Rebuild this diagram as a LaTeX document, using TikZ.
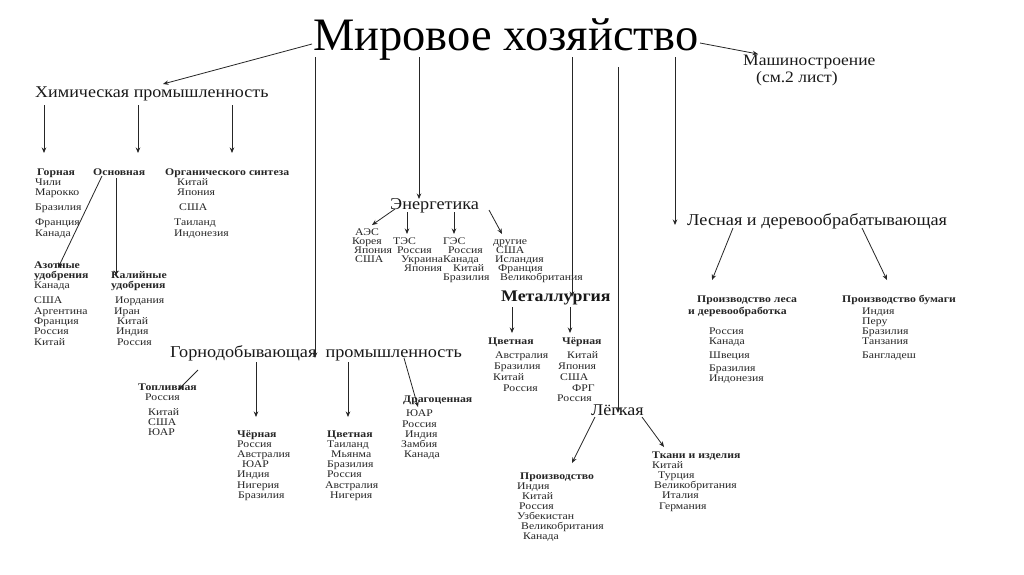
\documentclass[tikz,border=0pt]{standalone}
\usepackage{fontspec}
\setmainfont{Liberation Serif}
\newfontfamily\wid[FakeStretch=1.15]{Liberation Serif}
\newfontfamily\widm[FakeStretch=1.1]{Liberation Serif}
\usetikzlibrary{arrows.meta}
\newcommand\Lt[4]{\node[lst] (#1) at (#2,#3) {#4};}
\newcommand\Bt[4]{\node[lst,font=\wid\fontsize{10.2}{11}\selectfont\bfseries] (#1) at (#2,#3) {#4};}
\begin{document}
\begin{tikzpicture}[x=1pt,y=-1pt,
  lst/.style={anchor=west,inner sep=0pt,text height=0.7em,text depth=0.2em,font=\wid\fontsize{10.2}{11}\selectfont,text=black!85},
  mid/.style={anchor=west,inner sep=0pt,text height=0.7em,text depth=0.2em,font=\widm\fontsize{16.4}{18}\selectfont,text=black!90},
  arr/.style={draw=black!85,line width=0.8pt,-{Stealth[length=5.5pt,width=4.5pt]}},
  ln/.style={draw=black!85,line width=0.8pt}]
\useasboundingbox[fill=white] (0,0) rectangle (1024,574);
% title and main branches
\node[anchor=base,inner sep=0pt,font=\fontsize{46.5}{48}\selectfont] (mir) at (506,50) {Мировое хозяйство};
\node[mid,font=\widm\fontsize{15.9}{17}\selectfont] (mash) at (743,63) {Машиностроение};
\node[mid,font=\widm\fontsize{15.9}{17}\selectfont] (sm) at (756,80) {(см.2 лист)};
\node[mid] (chem) at (35,95) {Химическая промышленность};
\node[mid,font=\widm\fontsize{16.6}{18}\selectfont] (energ) at (390,207) {Энергетика};
\node[mid,font=\widm\fontsize{16.2}{18}\selectfont\bfseries] (metal) at (501,299) {Металлургия};
\node[mid,font=\widm\fontsize{16.4}{18}\selectfont] (light) at (591,413) {Лёгкая};
\node[mid,font=\widm\fontsize{16.6}{18}\selectfont] (forest) at (687,223) {Лесная и деревообрабатывающая};
\node[mid,font=\widm\fontsize{16.6}{18}\selectfont] (mining) at (170,355) {Горнодобывающая~ промышленность};
% chemistry
\Bt{gor}{37}{173}{Горная}
\Bt{osn}{93}{173}{Основная}
\Bt{org}{165}{173}{Органического синтеза}
\Lt{g1}{35}{183}{Чили}
\Lt{g2}{35}{193}{Марокко}
\Lt{g3}{35}{208}{Бразилия}
\Lt{g4}{35}{223}{Франция}
\Lt{g5}{35}{234}{Канада}
\Lt{o1}{177}{183}{Китай}
\Lt{o2}{177}{193}{Япония}
\Lt{o3}{179}{208}{США}
\Lt{o4}{174}{223}{Таиланд}
\Lt{o5}{174}{234}{Индонезия}
\Bt{azot}{34}{266}{Азотные}
\Bt{azot2}{34}{276}{удобрения}
\Lt{a1}{34}{286}{Канада}
\Lt{a2}{34}{301}{США}
\Lt{a3}{34}{312}{Аргентина}
\Lt{a4}{34}{322}{Франция}
\Lt{a5}{34}{332}{Россия}
\Lt{a6}{34}{343}{Китай}
\Bt{kal}{111}{276}{Калийные}
\Bt{kal2}{111}{286}{удобрения}
\Lt{k1}{115}{301}{Иордания}
\Lt{k2}{114}{312}{Иран}
\Lt{k3}{117}{322}{Китай}
\Lt{k4}{116}{332}{Индия}
\Lt{k5}{117}{343}{Россия}
% energy
\Lt{aes}{355}{233}{АЭС}
\Lt{ae1}{352}{242}{Корея}
\Lt{ae2}{354}{251}{Япония}
\Lt{ae3}{355}{260}{США}
\Lt{tes}{393}{242}{ТЭС}
\Lt{te1}{397}{251}{Россия}
\Lt{te2}{401}{260}{Украина}
\Lt{te3}{404}{269}{Япония}
\Lt{ges}{443}{242}{ГЭС}
\Lt{ge1}{448}{251}{Россия}
\Lt{ge2}{443}{260}{Канада}
\Lt{ge3}{453}{269}{Китай}
\Lt{ge4}{443}{278}{Бразилия}
\Lt{dr}{493}{242}{другие}
\Lt{dr1}{496}{251}{США}
\Lt{dr2}{495}{260}{Исландия}
\Lt{dr3}{498}{269}{Франция}
\Lt{dr4}{500}{278}{Великобритания}
% metallurgy
\Bt{mcv}{488}{342}{Цветная}
\Lt{mc1}{495}{356}{Австралия}
\Lt{mc2}{494}{367}{Бразилия}
\Lt{mc3}{493}{378}{Китай}
\Lt{mc4}{503}{389}{Россия}
\Bt{mch}{562}{342}{Чёрная}
\Lt{mh1}{567}{356}{Китай}
\Lt{mh2}{558}{367}{Япония}
\Lt{mh3}{560}{378}{США}
\Lt{mh4}{572}{389}{ФРГ}
\Lt{mh5}{557}{399}{Россия}
% light
\Bt{prz}{520}{477}{Производство}
\Lt{p1}{517}{487}{Индия}
\Lt{p2}{522}{497}{Китай}
\Lt{p3}{519}{507}{Россия}
\Lt{p4}{517}{517}{Узбекистан}
\Lt{p5}{521}{527}{Великобритания}
\Lt{p6}{523}{537}{Канада}
\Bt{tk}{652}{456}{Ткани и изделия}
\Lt{t1}{652}{466}{Китай}
\Lt{t2}{658}{476}{Турция}
\Lt{t3}{654}{486}{Великобритания}
\Lt{t4}{662}{496}{Италия}
\Lt{t5}{659}{507}{Германия}
% forest
\Bt{les}{697}{300}{Производство леса}
\Bt{les2}{688}{312}{и деревообработка}
\Lt{l1}{709}{332}{Россия}
\Lt{l2}{709}{342}{Канада}
\Lt{l3}{709}{356}{Швеция}
\Lt{l4}{709}{369}{Бразилия}
\Lt{l5}{709}{379}{Индонезия}
\Bt{bum}{842}{300}{Производство бумаги}
\Lt{b1}{862}{312}{Индия}
\Lt{b2}{862}{322}{Перу}
\Lt{b3}{862}{332}{Бразилия}
\Lt{b4}{862}{342}{Танзания}
\Lt{b5}{862}{356}{Бангладеш}
% mining
\Bt{top}{138}{388}{Топливная}
\Lt{tp1}{145}{398}{Россия}
\Lt{tp2}{148}{413}{Китай}
\Lt{tp3}{148}{423}{США}
\Lt{tp4}{148}{433}{ЮАР}
\Bt{gch}{237}{435}{Чёрная}
\Lt{gc1}{237}{445}{Россия}
\Lt{gc2}{237}{455}{Австралия}
\Lt{gc3}{242}{465}{ЮАР}
\Lt{gc4}{237}{475}{Индия}
\Lt{gc5}{237}{486}{Нигерия}
\Lt{gc6}{238}{496}{Бразилия}
\Bt{gcv}{327}{435}{Цветная}
\Lt{gv1}{327}{445}{Таиланд}
\Lt{gv2}{331}{455}{Мьянма}
\Lt{gv3}{327}{465}{Бразилия}
\Lt{gv4}{327}{475}{Россия}
\Lt{gv5}{325}{486}{Австралия}
\Lt{gv6}{330}{496}{Нигерия}
\Bt{dra}{403}{400}{Драгоценная}
\Lt{dg1}{406}{414}{ЮАР}
\Lt{dg2}{402}{425}{Россия}
\Lt{dg3}{405}{435}{Индия}
\Lt{dg4}{401}{445}{Замбия}
\Lt{dg5}{404}{455}{Канада}
% connectors from title
\draw[arr] (312,44) -- (163,84);
\draw[arr] (315,57) -- (315,358);
\draw[arr] (419,57) -- (419,199);
\draw[arr] (572,57) -- (572,297);
\draw[arr] (618,67) -- (618,413);
\draw[arr] (675,57) -- (675,225);
\draw[arr] (700,43) -- (758,54);
% chemistry
\draw[arr] (44,105) -- (44,153);
\draw[arr] (138,105) -- (138,153);
\draw[arr] (232,105) -- (232,153);
\draw[arr] (102,176) -- (58,268);
\draw[arr] (116,178) -- (116,276);
% energy
\draw[arr] (395,209) -- (372,225);
\draw[arr] (407,212) -- (407,234);
\draw[arr] (454,212) -- (454,234);
\draw[arr] (489,210) -- (502,234);
% metallurgy
\draw[arr] (512,307) -- (512,333);
\draw[arr] (570,307) -- (570,333);
% light
\draw[arr] (595,417) -- (572,463);
\draw[arr] (642,417) -- (664,447);
% forest
\draw[arr] (733,228) -- (712,280);
\draw[arr] (862,228) -- (887,280);
% mining
\draw[arr] (198,370) -- (178,390);
\draw[arr] (256,362) -- (256,417);
\draw[arr] (348,362) -- (348,417);
\draw[arr] (404,358) -- (418,407);
\end{tikzpicture}
\end{document}
